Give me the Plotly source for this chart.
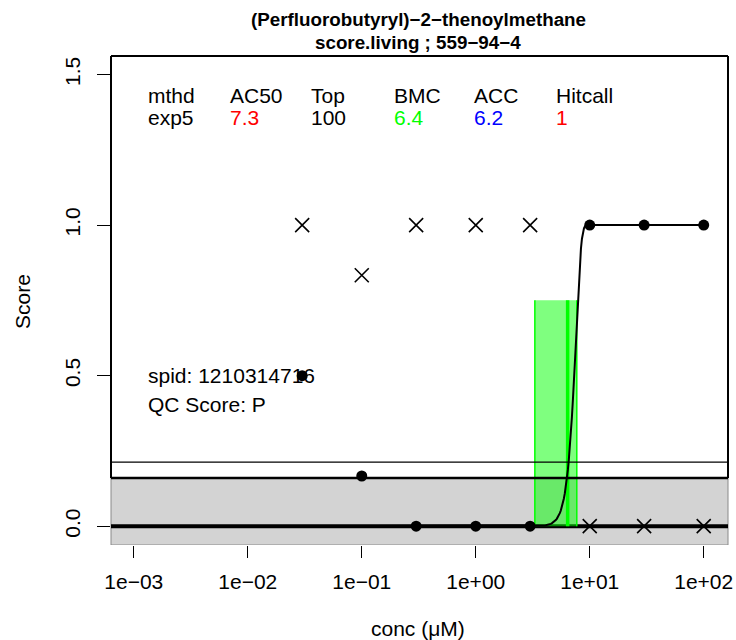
import numpy as np
import plotly.graph_objects as go

# ---- data ----
conc = [0.03, 0.1, 0.3, 1, 3, 10, 30, 100]
resp_dots = [0.5, 0.1667, 0.0, 0.0, 0.0, 1.0, 1.0, 1.0]
resp_x = [1.0, 0.8333, 1.0, 1.0, 1.0, 0.0, 0.0, 0.0]

fit_ac50 = 7.3
fit_top = 1.0
fit_power = 9.5
bmc = 6.4
bmdl = 3.3
bmdu = 7.7
band_height = 0.75
cutoff = 0.16
upper_line = 0.213

x_tickvals = [1e-3, 1e-2, 1e-1, 1e0, 1e1, 1e2]
x_ticktext = ["1e\u221203", "1e\u221202", "1e\u221201", "1e+00", "1e+01", "1e+02"]
y_tickvals = [0, 0.5, 1.0, 1.5]
y_ticktext = ["0.0", "0.5", "1.0", "1.5"]

hdr_labels = ["mthd", "AC50", "Top", "BMC", "ACC", "Hitcall"]
hdr_values = ["exp5", "7.3", "100", "6.4", "6.2", "1"]
hdr_colors = ["black", "#ff0000", "black", "#00ff00", "#0000ff", "#ff0000"]
hdr_xpix = [146, 228, 309, 392, 472, 554]

FONT = "Liberation Sans, Arial, Helvetica, sans-serif"
W, H = 736, 640
L, R, T, B = 111, 8, 56, 95
PW = W - L - R
PH = H - T - B


def px2paper_x(px):
    return (px - L) / PW


def py2paper_y(py):
    return (H - B - py) / PH


# model curve (exp5) from the fit parameters
cgrid = np.logspace(np.log10(conc[0]), np.log10(conc[-1]), 400)
cfit = fit_top * (1 - 2 ** (-(cgrid / fit_ac50) ** fit_power))

fig = go.Figure()

# BMC confidence band
fig.add_trace(go.Scatter(x=[bmdl, bmdu, bmdu, bmdl, bmdl], y=[0, 0, band_height, band_height, 0],
                         mode="lines", fill="toself", fillcolor="rgba(0,255,0,0.5)",
                         line=dict(width=0), hoverinfo="skip", showlegend=False))
for xv, wv in [(bmdl, 1.5), (bmdu, 1.5), (bmc, 3.5)]:
    fig.add_trace(go.Scatter(x=[xv, xv], y=[0, band_height], mode="lines",
                             line=dict(color="#00ff00", width=wv), showlegend=False, hoverinfo="skip"))

# fit curve
fig.add_trace(go.Scatter(x=cgrid, y=cfit, mode="lines", line=dict(color="black", width=2),
                         showlegend=False))

# points
fig.add_trace(go.Scatter(x=conc, y=resp_dots, mode="markers",
                         marker=dict(symbol="circle", size=11, color="black"), showlegend=False))
fig.add_trace(go.Scatter(x=conc, y=resp_x, mode="markers",
                         marker=dict(symbol="x-thin-open", size=14, color="black",
                                     line=dict(color="black", width=1.6)),
                         showlegend=False))

shapes = []
# gray cutoff region
shapes.append(dict(type="rect", xref="paper", yref="y", x0=0, x1=1, y0=-0.0625, y1=cutoff,
                   fillcolor="#d3d3d3", line=dict(color="#8a8a8a", width=1), layer="below"))
# frame
shapes.append(dict(type="line", xref="paper", yref="paper", x0=0, x1=1, y0=1, y1=1,
                   line=dict(color="black", width=2), layer="above"))
shapes.append(dict(type="line", xref="paper", yref="y", x0=0, x1=0, y0=cutoff, y1=1.5615,
                   line=dict(color="black", width=2), layer="above"))
shapes.append(dict(type="line", xref="paper", yref="y", x0=1, x1=1, y0=cutoff, y1=1.5615,
                   line=dict(color="black", width=2), layer="above"))
shapes.append(dict(type="line", xref="paper", yref="y", x0=0, x1=1, y0=cutoff, y1=cutoff,
                   line=dict(color="black", width=2.5), layer="above"))
shapes.append(dict(type="line", xref="paper", yref="y", x0=0, x1=1, y0=upper_line, y1=upper_line,
                   line=dict(color="black", width=1.2), layer="above"))
# zero line
shapes.append(dict(type="line", xref="paper", yref="y", x0=0, x1=1, y0=0, y1=0,
                   line=dict(color="black", width=4), layer="below"))

annotations = []
fs = 21
for lab, val, col, xp in zip(hdr_labels, hdr_values, hdr_colors, hdr_xpix):
    annotations.append(dict(xref="paper", yref="paper", x=px2paper_x(xp), y=py2paper_y(95),
                             text=lab, showarrow=False, xanchor="left", yanchor="middle",
                             font=dict(family=FONT, size=fs, color="black")))
    annotations.append(dict(xref="paper", yref="paper", x=px2paper_x(xp), y=py2paper_y(117),
                             text=val, showarrow=False, xanchor="left", yanchor="middle",
                             font=dict(family=FONT, size=fs, color=col)))
annotations.append(dict(xref="paper", yref="paper", x=px2paper_x(146), y=py2paper_y(376),
                        text="spid: 1210314716", showarrow=False, xanchor="left", yanchor="middle",
                        font=dict(family=FONT, size=fs, color="black")))
annotations.append(dict(xref="paper", yref="paper", x=px2paper_x(146), y=py2paper_y(404),
                        text="QC Score: P", showarrow=False, xanchor="left", yanchor="middle",
                        font=dict(family=FONT, size=fs, color="black")))
# title
annotations.append(dict(xref="paper", yref="paper", x=px2paper_x(418), y=py2paper_y(20),
                        text="<b>(Perfluorobutyryl)\u22122\u2212thenoylmethane</b>", showarrow=False,
                        xanchor="center", yanchor="middle", font=dict(family=FONT, size=18.8, color="black")))
annotations.append(dict(xref="paper", yref="paper", x=px2paper_x(418), y=py2paper_y(42),
                        text="<b>score.living ; 559\u221294\u22124</b>", showarrow=False,
                        xanchor="center", yanchor="middle", font=dict(family=FONT, size=18.8, color="black")))
# axis titles
annotations.append(dict(xref="paper", yref="paper", x=px2paper_x(418), y=py2paper_y(628),
                        text="conc (\u03bcM)", showarrow=False, xanchor="center", yanchor="middle",
                        font=dict(family=FONT, size=fs, color="black")))
annotations.append(dict(xref="paper", yref="paper", x=px2paper_x(22), y=py2paper_y(302),
                        text="Score", showarrow=False, xanchor="center", yanchor="middle", textangle=-90,
                        font=dict(family=FONT, size=fs, color="black")))

fig.update_layout(
    width=W, height=H, margin=dict(l=L, r=R, t=T, b=B, pad=0, autoexpand=False),
    plot_bgcolor="white", paper_bgcolor="white",
    shapes=shapes, annotations=annotations, showlegend=False,
    font=dict(family=FONT, size=fs, color="black"),
    xaxis=dict(type="log", range=[-3.2, 2.213], tickvals=x_tickvals, ticktext=x_ticktext,
               ticks="outside", ticklen=12, tickwidth=1.3, tickcolor="black", showgrid=False,
               zeroline=False, showline=False, ticklabelstandoff=6, automargin=False,
               tickfont=dict(family=FONT, size=fs, color="black")),
    yaxis=dict(range=[-0.0625, 1.5615], tickvals=y_tickvals, ticktext=y_ticktext, tickangle=-90,
               ticks="outside", ticklen=13, tickwidth=1.3, tickcolor="black", showgrid=False,
               zeroline=False, showline=False, ticklabelstandoff=9, automargin=False,
               tickfont=dict(family=FONT, size=fs, color="black")),
)

fig.write_html("out.html", config={"displayModeBar": False},
               post_script="document.body.style.margin='0px';document.body.style.overflow='hidden';")
